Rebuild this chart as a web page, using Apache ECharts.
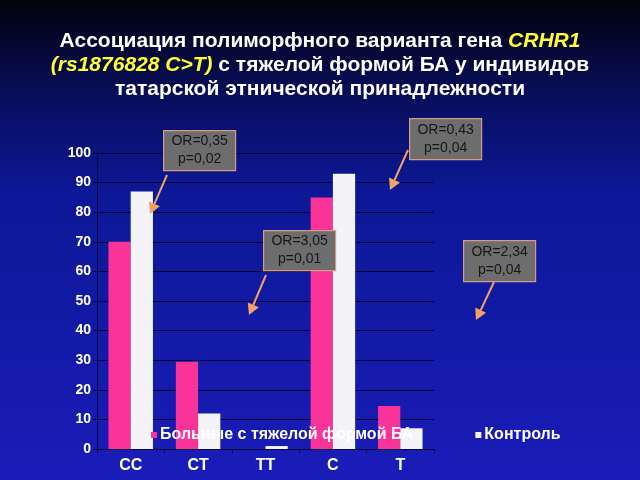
<!DOCTYPE html>
<html><head><meta charset="utf-8">
<script src="https://cdn.jsdelivr.net/npm/echarts@6/dist/echarts.min.js"></script>
<style>html,body{margin:0;padding:0;}#c{width:640px;height:480px;}</style>
</head><body><div id="c"></div>
<script>
var categories = ['CC', 'CT', 'TT', 'C', 'T'];
var patients = [70, 29.5, 0, 85, 14.5];
var controls = [87, 12, 1, 93, 7];
var seriesNames = ['Больные с тяжелой формой БА', 'Контроль'];
var yTicks = [0, 10, 20, 30, 40, 50, 60, 70, 80, 90, 100];
var notes = [['OR=0,35', 'p=0,02'], ['OR=3,05', 'p=0,01'], ['OR=0,43', 'p=0,04'], ['OR=2,34', 'p=0,04']];

var chart = echarts.init(document.getElementById('c'));
var font = 'Liberation Sans, Arial, sans-serif';

function box(x, y, w, h, lines) {
  return {
    type: 'group', left: x, top: y, z: 100, children: [
      { type: 'rect', z: 100, shape: { x: 0, y: 0, width: w, height: h }, style: { fill: '#6d6d6d', stroke: '#d89a86', lineWidth: 1.2 } },
      { type: 'text', z: 101, style: { x: w / 2, y: h / 2 - 9, text: lines[0], fill: '#161616', font: '14px ' + font, textAlign: 'center', textVerticalAlign: 'middle' } },
      { type: 'text', z: 101, style: { x: w / 2, y: h / 2 + 9, text: lines[1], fill: '#161616', font: '14px ' + font, textAlign: 'center', textVerticalAlign: 'middle' } }
    ]
  };
}
function arrow(x1, y1, x2, y2) {
  var ang = Math.atan2(y2 - y1, x2 - x1);
  var L = 11, W = 6;
  var bx = x2 - L * Math.cos(ang), by = y2 - L * Math.sin(ang);
  var px = -Math.sin(ang) * W, py = Math.cos(ang) * W;
  return [
    { type: 'line', z: 100, shape: { x1: x1, y1: y1, x2: bx, y2: by }, style: { stroke: '#f2a266', lineWidth: 2 } },
    { type: 'polygon', z: 100, shape: { points: [[x2, y2], [bx + px, by + py], [bx - px, by - py]] }, style: { fill: '#f2a266' } }
  ];
}

var graphics = [
  box(163, 130, 72, 40, notes[0]),
  box(263, 230, 72, 40, notes[1]),
  box(409, 118, 72, 41, notes[2]),
  box(463, 240, 72, 41, notes[3])
].concat(arrow(167, 175, 150, 214))
 .concat(arrow(266, 275, 249, 315))
 .concat(arrow(408, 150, 390, 190))
 .concat(arrow(494, 282, 476, 320));

chart.setOption({
  backgroundColor: {
    type: 'linear', x: 0, y: 0, x2: 0, y2: 1,
    colorStops: [
      { offset: 0, color: '#02020c' },
      { offset: 0.2, color: '#080e5c' },
      { offset: 0.4, color: '#0c1896' },
      { offset: 1, color: '#1a1cb8' }
    ]
  },
  title: {
    text: '{w|Ассоциация полиморфного варианта гена }{y|CRHR1}\n{y|(rs1876828 C>T)}{w| с тяжелой формой БА у индивидов}\n{w|татарской этнической принадлежности}',
    left: 'center', top: 24,
    textStyle: {
      align: 'center',
      lineHeight: 24,
      rich: {
        w: { color: '#ffffff', fontSize: 21, fontWeight: 'bold', fontFamily: font, lineHeight: 24, align: 'center' },
        y: { color: '#ffff33', fontSize: 21, fontWeight: 'bold', fontStyle: 'italic', fontFamily: font, lineHeight: 24, align: 'center' }
      }
    }
  },
  legend: {
    data: seriesNames,
    left: 146, top: 422,
    itemWidth: 6, itemHeight: 6, itemGap: 62,
    icon: 'rect',
    textStyle: { color: '#ffffff', fontSize: 16, fontWeight: 'bold', fontFamily: font, padding: [0, 0, 0, -2] }
  },
  grid: { left: 97, right: 206, top: 153, bottom: 31 },
  xAxis: {
    type: 'category', data: categories,
    axisLine: { lineStyle: { color: '#0a0a40', width: 1 } },
    axisTick: { show: true, length: 4, lineStyle: { color: '#0a0a40' } },
    axisLabel: { color: '#ffffff', fontSize: 16, fontWeight: 'bold', fontFamily: font, margin: 9 }
  },
  yAxis: {
    type: 'value', min: 0, max: 100, interval: 10,
    axisLine: { show: true, lineStyle: { color: '#0a0a40' } },
    axisTick: { show: true, length: 4, lineStyle: { color: '#0a0a40' } },
    splitLine: { lineStyle: { color: '#060630', width: 1 } },
    axisLabel: {
      color: '#ffffff', fontSize: 14, fontWeight: 'bold', fontFamily: font, margin: 6,
      formatter: function (v) { return yTicks.indexOf(v) >= 0 ? String(v) : ''; }
    }
  },
  series: [
    { name: seriesNames[0], type: 'bar', data: patients, barGap: '0%', barCategoryGap: '34%', itemStyle: { color: '#fa3399' } },
    { name: seriesNames[1], type: 'bar', data: controls, itemStyle: { color: '#f3f3f8' } }
  ],
  graphic: graphics,
  animation: false
});
</script></body></html>
